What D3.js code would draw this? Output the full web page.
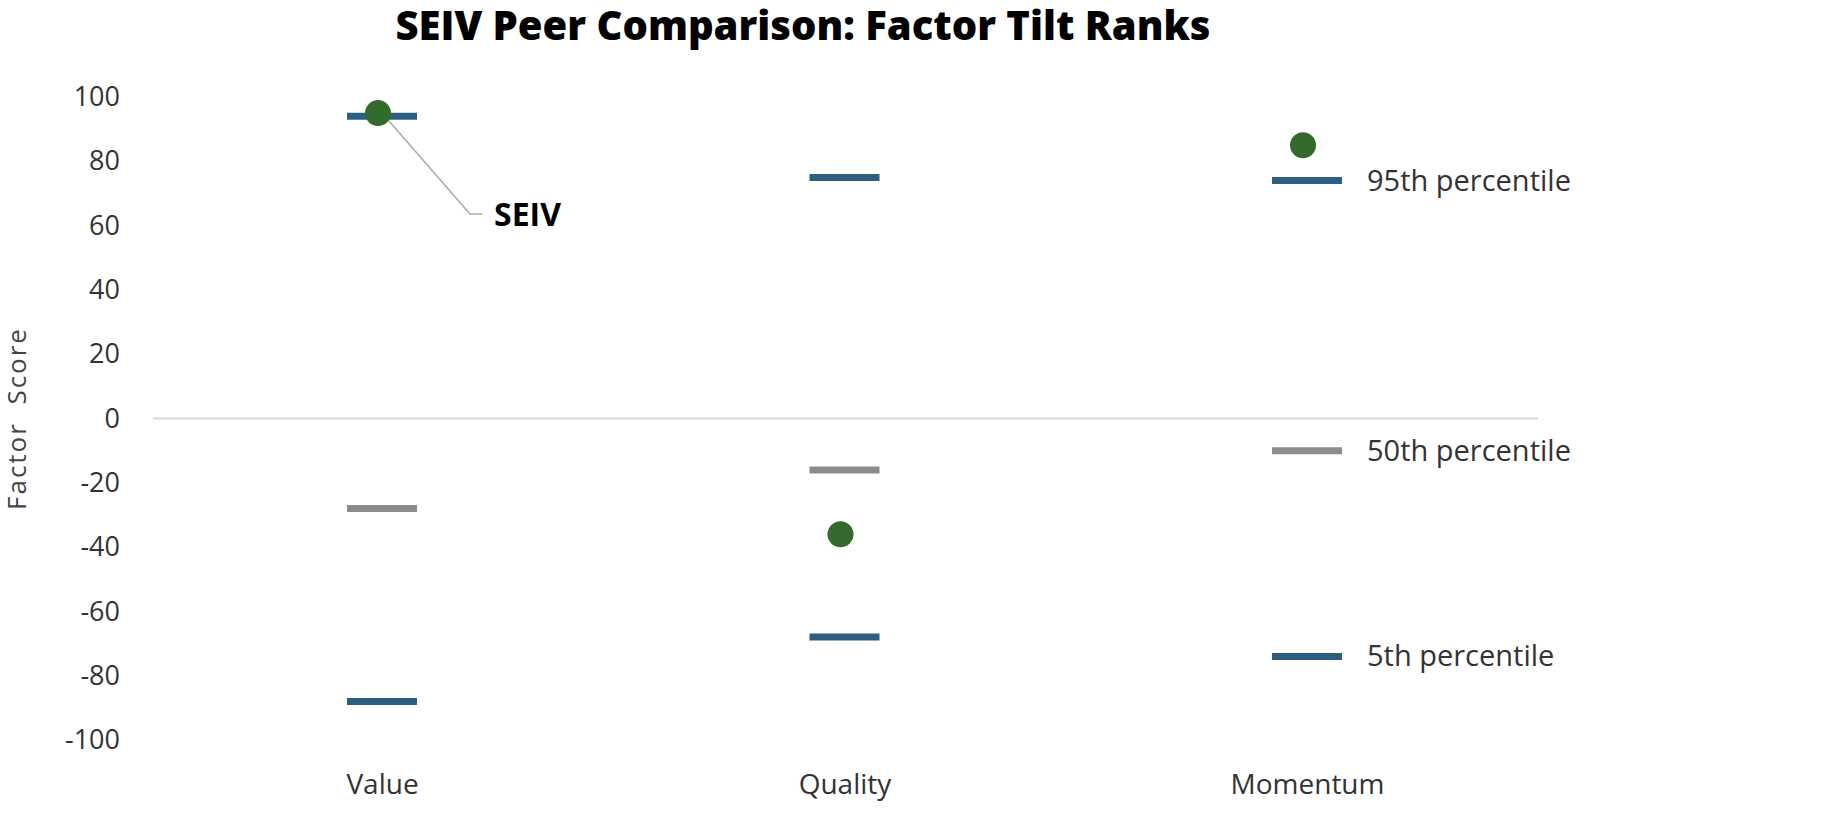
<!DOCTYPE html>
<html><head><meta charset="utf-8">
<script src="https://cdn.jsdelivr.net/npm/d3@7"></script>
<style>body{margin:0;background:#fff}text{font-family:"Open Sans",sans-serif}</style>
</head><body>
<script>
// Factor tilt ranks data
var categories = ["Value", "Quality", "Momentum"]
var p95 = [94, 75, 74]
var p50 = [-28, -16, -10]
var p5 = [-88, -68, -74]
var seiv = [95, -36, 85]
var ticks = [100, 80, 60, 40, 20, 0, -20, -40, -60, -80, -100]

var width = 1834, height = 815
var svg = d3.select("body").append("svg").attr("width", width).attr("height", height)

var x = d3.scalePoint().domain(categories).range([382, 1307])
var y = d3.scaleLinear().domain([-100, 100]).range([740, 97])

svg.append("text").attr("x", 803).attr("y", 40).attr("text-anchor", "middle")
  .style("font-size", "40px").style("font-weight", 800).text("SEIV Peer Comparison: Factor Tilt Ranks")

// y axis labels (plain hyphen for negatives, like the original)
var yAxis = d3.axisLeft(y).tickValues(ticks).tickSize(0).tickPadding(0)
  .tickFormat(function(d) { return String(d) })
var g = svg.append("g").attr("transform", "translate(120,0)").call(yAxis)
g.select(".domain").remove()
g.selectAll("text").style("font-size", "27px").style("font-family", "Open Sans").attr("fill", "#333")

svg.append("line").attr("x1", 153).attr("x2", 1538).attr("y1", y(0)).attr("y2", y(0))
  .attr("stroke", "#d9d9d9").attr("stroke-width", 2)

svg.append("text").attr("transform", "translate(26," + y(0) + ") rotate(-90)")
  .attr("text-anchor", "middle").style("font-size", "26px").style("letter-spacing", "2px")
  .attr("fill", "#444").attr("xml:space", "preserve").text("Factor  Score")

var xAxis = d3.axisBottom(x).tickSize(0).tickPadding(0)
var gx = svg.append("g").attr("transform", "translate(0,774)").call(xAxis)
gx.select(".domain").remove()
gx.selectAll("text").style("font-size", "28px").style("font-family", "Open Sans").attr("fill", "#333")

function marks(vals, color) {
  svg.append("g").selectAll("line").data(vals).enter().append("line")
    .attr("x1", function(d, i) { return x(categories[i]) - 35 })
    .attr("x2", function(d, i) { return x(categories[i]) + 35 })
    .attr("y1", function(d) { return y(d) }).attr("y2", function(d) { return y(d) })
    .attr("stroke", color).attr("stroke-width", 7)
}
marks(p95, "#2e5f80")
marks(p50, "#8c8c8c")
marks(p5, "#2e5f80")

// SEIV callout
svg.append("polyline").attr("fill", "none").attr("stroke", "#aaa").attr("stroke-width", 1.5)
  .attr("points", [[x("Value"), y(seiv[0])], [470, 214], [482, 214]].join(" "))
svg.append("text").attr("x", 494).attr("y", 226).style("font-size", "32px").style("font-weight", 700).text("SEIV")

svg.append("g").selectAll("circle").data(seiv).enter().append("circle")
  .attr("cx", function(d, i) { return x(categories[i]) - 4 }).attr("cy", function(d) { return y(d) })
  .attr("r", 13).attr("fill", "#336b2c")

// right labels for momentum series
var labels = [["95th percentile", p95[2]], ["50th percentile", p50[2]], ["5th percentile", p5[2]]]
svg.append("g").selectAll("text").data(labels).enter().append("text")
  .attr("x", 1367).attr("y", function(d) { return y(d[1]) + 10 })
  .style("font-size", "29px").attr("fill", "#333").text(function(d) { return d[0] })
</script>
</body></html>
